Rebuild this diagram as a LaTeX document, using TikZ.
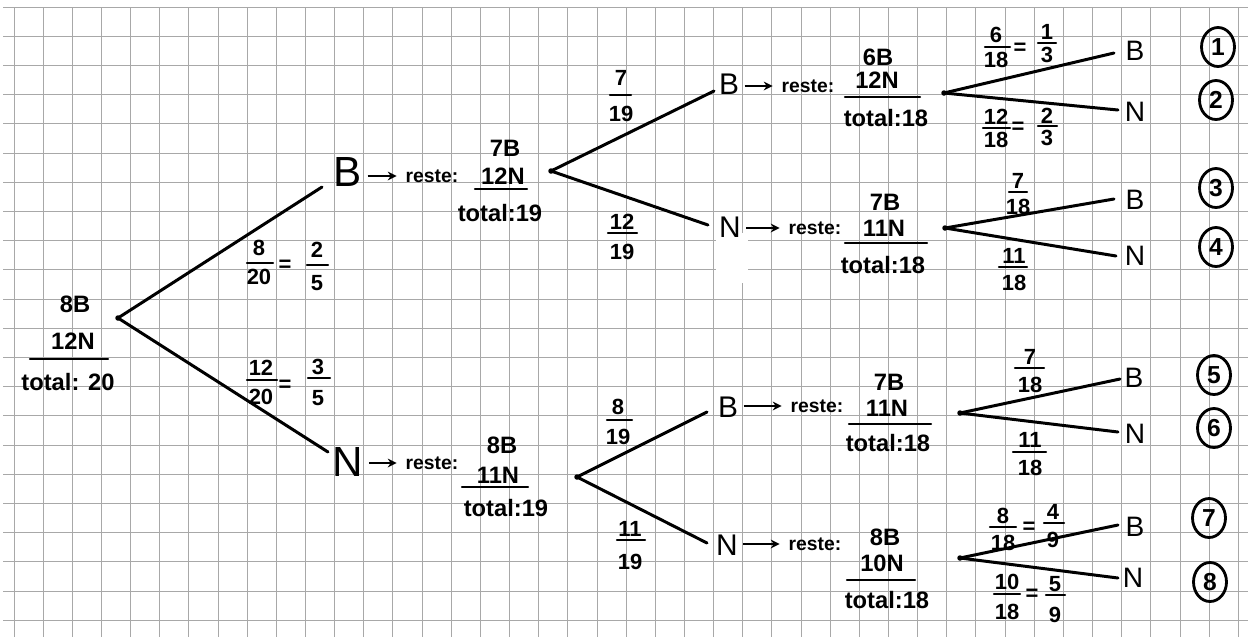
\documentclass[tikz,border=0pt]{standalone}
\usepackage{fontspec}
\setmainfont{Liberation Sans}
\usetikzlibrary{arrows.meta,shapes.geometric}

% fraction: name, x, y numerator, y bar, y denominator, bar from, bar to, numerator, denominator
\newcommand\fracat[9]{%
  \node[frc] (#1n) at (#2,#3) {#8};
  \node[frc] (#1d) at (#2,#5) {#9};
  \draw[fbar] (#6,#4) -- (#7,#4);}

\begin{document}
\begin{tikzpicture}[x=0.02cm,y=-0.02cm,
  gridline/.style={line width=0.55pt,black!34},
  branch/.style={line width=1.7pt,line cap=round},
  vtx/.style={circle,fill,inner sep=0pt,minimum size=0.11cm},
  arr/.style={line width=1.2pt,-{Stealth[length=5pt,width=5pt]},shorten <=3pt,shorten >=5pt},
  fbar/.style={line width=1.4pt,line cap=round},
  big/.style={inner sep=0pt,font=\fontsize{24}{24}\selectfont},
  lvl/.style={inner sep=0pt,font=\fontsize{17}{17}\selectfont},
  leaf/.style={inner sep=0pt,font=\fontsize{16}{16}\selectfont},
  cnt/.style={inner sep=0pt,font=\bfseries\fontsize{13.5}{14}\selectfont},
  rst/.style={inner sep=0pt,font=\bfseries\fontsize{11}{12}\selectfont},
  frc/.style={inner sep=0pt,font=\bfseries\fontsize{12.5}{12.5}\selectfont},
  tag/.style={draw,ellipse,line width=1.6pt,inner sep=0pt,minimum width=0.66cm,
    minimum height=0.78cm,font=\bfseries\fontsize{14}{14}\selectfont}]

\useasboundingbox (0,0) rectangle (1248,637);
\fill[white] (0,0) rectangle (1248,637);

% squared paper
\foreach \i in {0,...,42} \draw[gridline] ({14+29.15*\i},7) -- ({14+29.15*\i},637);
\foreach \j in {0,...,21} \draw[gridline] (3,{7+29.2*\j}) -- (1248,{7+29.2*\j});
\fill[white] (716,233) rectangle (748,283);

% ---- root: urn content
\node[cnt] (r0b) at (75,304) {8B};
\node[cnt] (r0n) at (73,341) {12N};
\draw[fbar] (30,359) -- (108,359);
\node[cnt] (r0t) at (68,382) {total: 20};
\node[vtx] (r0) at (118,318) {};

% ---- first draw
\coordinate (b1e) at (322,187);
\coordinate (n1e) at (328,452);
\draw[branch] (r0.center) -- (b1e);
\draw[branch] (r0.center) -- (n1e);
\fracat{f1}{259}{248}{263}{277}{247}{273}{8}{20}
\node[frc] (q1) at (285,266) {=};
\fracat{f1s}{317}{250}{265}{283}{307}{328}{2}{5}
\fracat{f2}{261}{368}{380}{397}{247}{277}{12}{20}
\node[frc] (q2) at (285,386) {=};
\fracat{f2s}{318}{367}{378}{398}{308}{330}{3}{5}

% B drawn first
\node[big] (b1) at (348,172) {B};
\node[rst] (b1r) at (432,176) {reste:};
\draw[arr] (b1.east |- b1r.west) -- (b1r.west);
\node[cnt] (s1b) at (505,148) {7B};
\node[cnt] (s1n) at (503,176) {12N};
\draw[fbar] (475,189) -- (527,189);
\node[cnt] (s1t) at (500,213) {total:19};
\node[vtx] (v1) at (551,171) {};

% N drawn first
\node[big] (n1) at (348,462) {N};
\node[rst] (n1r) at (432,463) {reste:};
\draw[arr] (n1.east |- n1r.west) -- (n1r.west);
\node[cnt] (s2b) at (502,445) {8B};
\node[cnt] (s2n) at (498,475) {11N};
\draw[fbar] (462,487) -- (528,487);
\node[cnt] (s2t) at (506,508) {total:19};
\node[vtx] (v2) at (577,477) {};

% ---- second draw
\coordinate (b2e) at (714,91);
\coordinate (n2e) at (708,225);
\coordinate (b3e) at (707,412);
\coordinate (n3e) at (707,543);
\draw[branch] (v1.center) -- (b2e);
\draw[branch] (v1.center) -- (n2e);
\draw[branch] (v2.center) -- (b3e);
\draw[branch] (v2.center) -- (n3e);
\fracat{f3}{621}{78}{95}{114}{610}{631}{7}{19}
\fracat{f4}{622}{222}{233}{252}{608}{637}{12}{19}
\fracat{f5}{618}{407}{420}{437}{607}{632}{8}{19}
\fracat{f6}{630}{529}{540}{562}{617}{645}{11}{19}

% B, B
\node[lvl] (b2) at (729,84) {B};
\node[rst] (b2r) at (808,86) {reste:};
\draw[arr] (b2.east |- b2r.west) -- (b2r.west);
\node[cnt] (s3b) at (878,57) {6B};
\node[cnt] (s3n) at (877,80) {12N};
\draw[fbar] (845,97) -- (920,97);
\node[cnt] (s3t) at (886,118) {total:18};
\node[vtx] (v3) at (944,93) {};

% B, N
\node[lvl] (n2) at (730,227) {N};
\node[rst] (n2r) at (815,228) {reste:};
\draw[arr] (n2.east |- n2r.west) -- (n2r.west);
\node[cnt] (s4b) at (885,202) {7B};
\node[cnt] (s4n) at (884,228) {11N};
\draw[fbar] (845,243) -- (927,243);
\node[cnt] (s4t) at (883,265) {total:18};
\node[vtx] (v4) at (945,228) {};

% N, B
\node[lvl] (b3) at (728,407) {B};
\node[rst] (b3r) at (817,406) {reste:};
\draw[arr] (b3.east |- b3r.west) -- (b3r.west);
\node[cnt] (s5b) at (889,382) {7B};
\node[cnt] (s5n) at (887,408) {11N};
\draw[fbar] (849,424) -- (931,424);
\node[cnt] (s5t) at (888,443) {total:18};
\node[vtx] (v5) at (960,413) {};

% N, N
\node[lvl] (n3) at (727,545) {N};
\node[rst] (n3r) at (815,544) {reste:};
\draw[arr] (n3.east |- n3r.west) -- (n3r.west);
\node[cnt] (s6b) at (885,537) {8B};
\node[cnt] (s6n) at (882,563) {10N};
\draw[fbar] (847,580) -- (915,580);
\node[cnt] (s6t) at (887,600) {total:18};
\node[vtx] (v6) at (960,558) {};

% ---- third draw: leaves
\coordinate (l1e) at (1114,53);
\coordinate (l2e) at (1118,110);
\coordinate (l3e) at (1114,199);
\coordinate (l4e) at (1116,256);
\coordinate (l5e) at (1120,379);
\coordinate (l6e) at (1118,432);
\coordinate (l7e) at (1118,525);
\coordinate (l8e) at (1118,578);
\draw[branch] (v3.center) -- (l1e);
\draw[branch] (v3.center) -- (l2e);
\draw[branch] (v4.center) -- (l3e);
\draw[branch] (v4.center) -- (l4e);
\draw[branch] (v5.center) -- (l5e);
\draw[branch] (v5.center) -- (l6e);
\draw[branch] (v6.center) -- (l7e);
\draw[branch] (v6.center) -- (l8e);

\node[leaf] (l1) at (1135,51) {B};
\node[leaf] (l2) at (1135,112) {N};
\node[leaf] (l3) at (1135,200) {B};
\node[leaf] (l4) at (1135,256) {N};
\node[leaf] (l5) at (1134,378) {B};
\node[leaf] (l6) at (1135,434) {N};
\node[leaf] (l7) at (1135,527) {B};
\node[leaf] (l8) at (1133,578) {N};

\fracat{g1}{996}{35}{47}{60}{985}{1010}{6}{18}
\node[frc] (q3) at (1020,49) {=};
\fracat{g1s}{1047}{32}{43}{55}{1038}{1056}{1}{3}
\fracat{g2}{996}{117}{128}{140}{983}{1010}{12}{18}
\node[frc] (q4) at (1018,128) {=};
\fracat{g2s}{1047}{116}{126}{138}{1038}{1057}{2}{3}
\fracat{g3}{1018}{181}{192}{207}{1009}{1027}{7}{18}
\fracat{g4}{1014}{256}{267}{283}{999}{1027}{11}{18}
\fracat{g5}{1030}{357}{368}{385}{1015}{1044}{7}{18}
\fracat{g6}{1030}{440}{452}{468}{1013}{1046}{11}{18}
\fracat{g7}{1003}{516}{527}{543}{990}{1016}{8}{18}
\node[frc] (q5) at (1029,528) {=};
\fracat{g7s}{1053}{512}{523}{540}{1044}{1064}{4}{9}
\fracat{g8}{1007}{582}{594}{612}{994}{1020}{10}{18}
\node[frc] (q6) at (1032,595) {=};
\fracat{g8s}{1055}{584}{595}{615}{1046}{1065}{5}{9}

% outcome numbers
\node[tag] (t1) at (1218,47) {1};
\node[tag] (t2) at (1216,100) {2};
\node[tag] (t3) at (1216,188) {3};
\node[tag] (t4) at (1216,247) {4};
\node[tag] (t5) at (1214,375) {5};
\node[tag] (t6) at (1214,428) {6};
\node[tag] (t7) at (1209,518) {7};
\node[tag] (t8) at (1210,582) {8};
\end{tikzpicture}
\end{document}
